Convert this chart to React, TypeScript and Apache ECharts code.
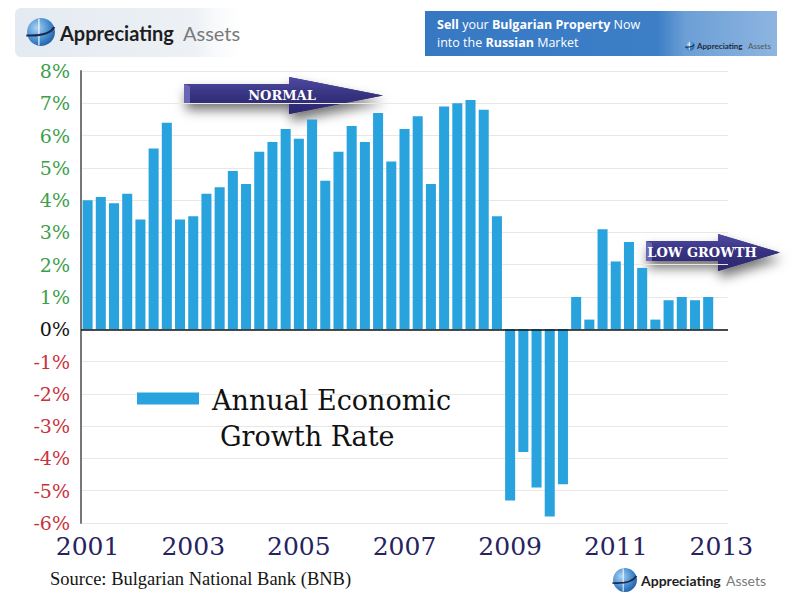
import React, { useEffect, useRef } from "react";
import * as echarts from "echarts";

// ---- data ----
const years = [2001, 2002, 2003, 2004, 2005, 2006, 2007, 2008, 2009, 2010, 2011, 2012, 2013];
const quarterNames = ["Q1", "Q2", "Q3", "Q4"];
// 2001 Q1 .. 2013 Q1 (last slot empty)
const quarters = years.flatMap((y) => quarterNames.map((q) => `${y} ${q}`)).slice(0, 49);
const growth = [
  4.0, 4.1, 3.9, 4.2, 3.4, 5.6, 6.4, 3.4, 3.5, 4.2,
  4.4, 4.9, 4.5, 5.5, 5.8, 6.2, 5.9, 6.5, 4.6, 5.5,
  6.3, 5.8, 6.7, 5.2, 6.2, 6.6, 4.5, 6.9, 7.0, 7.1,
  6.8, 3.5, -5.3, -3.8, -4.9, -5.8, -4.8, 1.0, 0.3, 3.1,
  2.1, 2.7, 1.9, 0.3, 0.9, 1.0, 0.9, 1.0,
];
const yMin = -6;
const yMax = 8;
const seriesName = "Annual Economic Growth Rate";
const legendLines = ["Annual Economic", "Growth Rate"];
const sourceText = "Source: Bulgarian National Bank (BNB)";
const arrowNormal = "NORMAL";
const arrowLow = "LOW GROWTH";
const brandMain = "Appreciating";
const brandSub = "Assets";
const bannerLine1 = ["Sell", " your ", "Bulgarian Property", " Now"];
const bannerLine2 = ["into the ", "Russian", " Market"];

const SERIF = "'DejaVu Serif', Georgia, serif";
const SANS = "Lato, 'Open Sans', sans-serif";
const BANNER_FONT = "'Open Sans', sans-serif";

function arrowShape(x0: number, sTop: number, sBot: number, hx: number, hTop: number, hBot: number, tipX: number) {
  const tipY = (hTop + hBot) / 2;
  return [
    [x0, sTop], [hx, sTop], [hx, hTop], [tipX, tipY], [hx, hBot], [hx, sBot], [x0, sBot],
  ];
}

function arrow(points: number[][], label: string, cx: number, cy: number, x0: number, sTop: number, sBot: number) {
  return {
    type: "group",
    children: [
      {
        type: "polygon",
        shape: { points },
        style: {
          fill: "#2e2a72",
          shadowBlur: 12,
          shadowColor: "rgba(0,0,0,0.55)",
          shadowOffsetX: 2,
          shadowOffsetY: 7,
        },
      },
      {
        type: "polygon",
        shape: { points },
        style: {
          fill: new echarts.graphic.LinearGradient(0, 0, 0, 1, [
            { offset: 0, color: "#4f4ba3" },
            { offset: 0.5, color: "#36327f" },
            { offset: 1, color: "#2a2670" },
          ]),
        },
      },
      {
        type: "polygon",
        shape: { points: [[x0, sTop], [x0 + 6, sTop + 2], [x0 + 6, sBot], [x0, sBot]] },
        style: { fill: "#6a66b4" },
      },
      {
        type: "text",
        x: cx,
        y: cy,
        style: {
          text: label,
          fill: "#ffffff",
          font: `bold 13px ${SERIF}`,
          align: "center",
          verticalAlign: "middle",
        },
      },
    ],
  };
}

function globe(cx: number, cy: number, r: number) {
  return {
    type: "group",
    children: [
      {
        type: "circle",
        shape: { cx, cy, r },
        style: {
          fill: new echarts.graphic.RadialGradient(0.35, 0.35, 0.8, [
            { offset: 0, color: "#a9d2f2" },
            { offset: 0.6, color: "#3f86cc" },
            { offset: 1, color: "#1c4f95" },
          ]),
        },
      },
      {
        type: "line",
        shape: { x1: cx - r * 0.15, y1: cy - r * 0.95, x2: cx - r * 0.15, y2: cy + r * 0.95 },
        style: { stroke: "rgba(255,255,255,0.8)", lineWidth: Math.max(1, r / 10) },
      },
      {
        type: "bezierCurve",
        shape: {
          x1: cx - r * 1.05, y1: cy + r * 0.25,
          cpx1: cx, cpy1: cy + r * 0.3,
          x2: cx + r * 0.95, y2: cy - r * 0.35,
          cpx2: cx + r * 0.7, cpy2: cy + r * 0.1,
        },
        style: { stroke: "#1a2a4a", lineWidth: Math.max(1.2, r / 7), fill: "none" },
      },
    ],
  };
}

const bannerRich = {
  b: { fontFamily: BANNER_FONT, fontWeight: "bold", fontSize: 12.5, fill: "#ffffff", lineHeight: 14 },
  n: { fontFamily: BANNER_FONT, fontSize: 12.5, fill: "#ffffff", lineHeight: 14 },
};

export default function App() {
  const ref = useRef<HTMLDivElement>(null);

  useEffect(() => {
    if (!ref.current) return;
    const chart = echarts.init(ref.current, null, { renderer: "svg" });

    const option = {
      animation: false,
      backgroundColor: "#ffffff",
      grid: { left: 81, right: 72, top: 71, bottom: 77 },
      legend: {
        data: [seriesName],
        left: 137,
        top: 387,
        padding: 0,
        itemWidth: 62,
        itemHeight: 12,
        icon: "rect",
        selectedMode: false,
        formatter: () => `{a|${legendLines[0]}}\n{i|}{a|${legendLines[1]}}`,
        textStyle: {
          padding: [40, 0, 0, 8],
          rich: {
            a: { fontFamily: SERIF, fontSize: 27, color: "#111111", lineHeight: 36 },
            i: { width: 8, lineHeight: 36 },
          },
        },
      },
      xAxis: {
        type: "category",
        data: quarters,
        boundaryGap: true,
        axisLine: { show: false, onZero: false },
        axisTick: { show: false },
        splitLine: { show: false },
        axisLabel: {
          interval: 7,
          formatter: (v: string) => v.slice(0, 4),
          fontFamily: SERIF,
          fontSize: 25,
          color: "#27235e",
          margin: 11,
        },
      },
      yAxis: {
        type: "value",
        min: yMin,
        max: yMax,
        interval: 1,
        axisLine: { show: true, lineStyle: { color: "#777777", width: 2 } },
        axisTick: { show: false },
        splitLine: { lineStyle: { color: "#ebe8e2", width: 1 } },
        axisLabel: {
          margin: 11,
          formatter: (v: number) =>
            v > 0 ? `{g|${v}%}` : v < 0 ? `{r|${v}%}` : `{k|${v}%}`,
          rich: {
            g: { fontFamily: SERIF, fontSize: 19, color: "#3c9e4a" },
            r: { fontFamily: SERIF, fontSize: 19, color: "#c8323c" },
            k: { fontFamily: SERIF, fontSize: 19, color: "#111111" },
          },
        },
      },
      series: [
        {
          name: seriesName,
          type: "bar",
          data: growth,
          barCategoryGap: "24%",
          itemStyle: { color: "#29a3dd" },
          markLine: {
            silent: true,
            symbol: "none",
            label: { show: false },
            lineStyle: { color: "#111111", width: 1.5, type: "solid" },
            data: [{ yAxis: 0 }],
          },
        },
      ],
      graphic: [
        // top-left logo
        {
          type: "rect",
          shape: { x: 15, y: 8, width: 240, height: 49, r: 6 },
          style: {
            fill: new echarts.graphic.LinearGradient(0, 0, 1, 0, [
              { offset: 0, color: "#e3eaf1" },
              { offset: 0.75, color: "#edf1f5" },
              { offset: 1, color: "rgba(255,255,255,0)" },
            ]),
          },
        },
        globe(41, 32, 14),
        {
          type: "text",
          x: 60,
          y: 33,
          style: { text: brandMain, font: `bold 20px ${SANS}`, fill: "#1e1e1e", verticalAlign: "middle" },
        },
        {
          type: "text",
          x: 183,
          y: 33,
          style: { text: brandSub, font: `20px ${SANS}`, fill: "#7a7a7a", verticalAlign: "middle" },
        },
        // top-right banner
        {
          type: "rect",
          shape: { x: 425, y: 11, width: 352, height: 45 },
          style: {
            fill: new echarts.graphic.LinearGradient(0, 0, 1, 0, [
              { offset: 0, color: "#3778c2" },
              { offset: 0.66, color: "#3c7fc7" },
              { offset: 0.74, color: "#6c9fd6" },
              { offset: 1, color: "#8db5e0" },
            ]),
          },
        },
        {
          type: "text",
          x: 437,
          y: 24,
          style: {
            text: `{b|${bannerLine1[0]}}{n|${bannerLine1[1]}}{b|${bannerLine1[2]}}{n|${bannerLine1[3]}}`,
            verticalAlign: "middle",
            rich: bannerRich,
          },
        },
        {
          type: "text",
          x: 437,
          y: 42,
          style: {
            text: `{n|${bannerLine2[0]}}{b|${bannerLine2[1]}}{n|${bannerLine2[2]}}`,
            verticalAlign: "middle",
            rich: bannerRich,
          },
        },
        globe(690, 46, 4.5),
        {
          type: "text",
          x: 697,
          y: 46,
          style: { text: brandMain, font: `bold 8px ${SANS}`, fill: "#1e2a40", verticalAlign: "middle" },
        },
        {
          type: "text",
          x: 748,
          y: 46,
          style: { text: brandSub, font: `8px ${SANS}`, fill: "#555555", verticalAlign: "middle" },
        },
        // arrows
        arrow(arrowShape(184, 84, 103, 289, 77, 114, 383), arrowNormal, 282, 95, 184, 84, 103),
        arrow(arrowShape(646, 241, 261, 718, 234, 271, 780), arrowLow, 702, 252, 646, 241, 261),
        // source
        {
          type: "text",
          x: 50,
          y: 579,
          style: { text: sourceText, font: `18.5px 'Liberation Serif', serif`, fill: "#151515", verticalAlign: "middle" },
        },
        // bottom-right logo
        globe(625, 580, 12),
        {
          type: "text",
          x: 641,
          y: 580,
          style: { text: brandMain, font: `bold 14px ${SANS}`, fill: "#1e1e1e", verticalAlign: "middle" },
        },
        {
          type: "text",
          x: 726,
          y: 580,
          style: { text: brandSub, font: `14px ${SANS}`, fill: "#7a7a7a", verticalAlign: "middle" },
        },
      ],
    };

    chart.setOption(option as any);
    return () => chart.dispose();
  }, []);

  return (
    <div
      ref={ref}
      style={{ position: "absolute", left: 0, top: 0, width: 800, height: 600 }}
    />
  );
}
